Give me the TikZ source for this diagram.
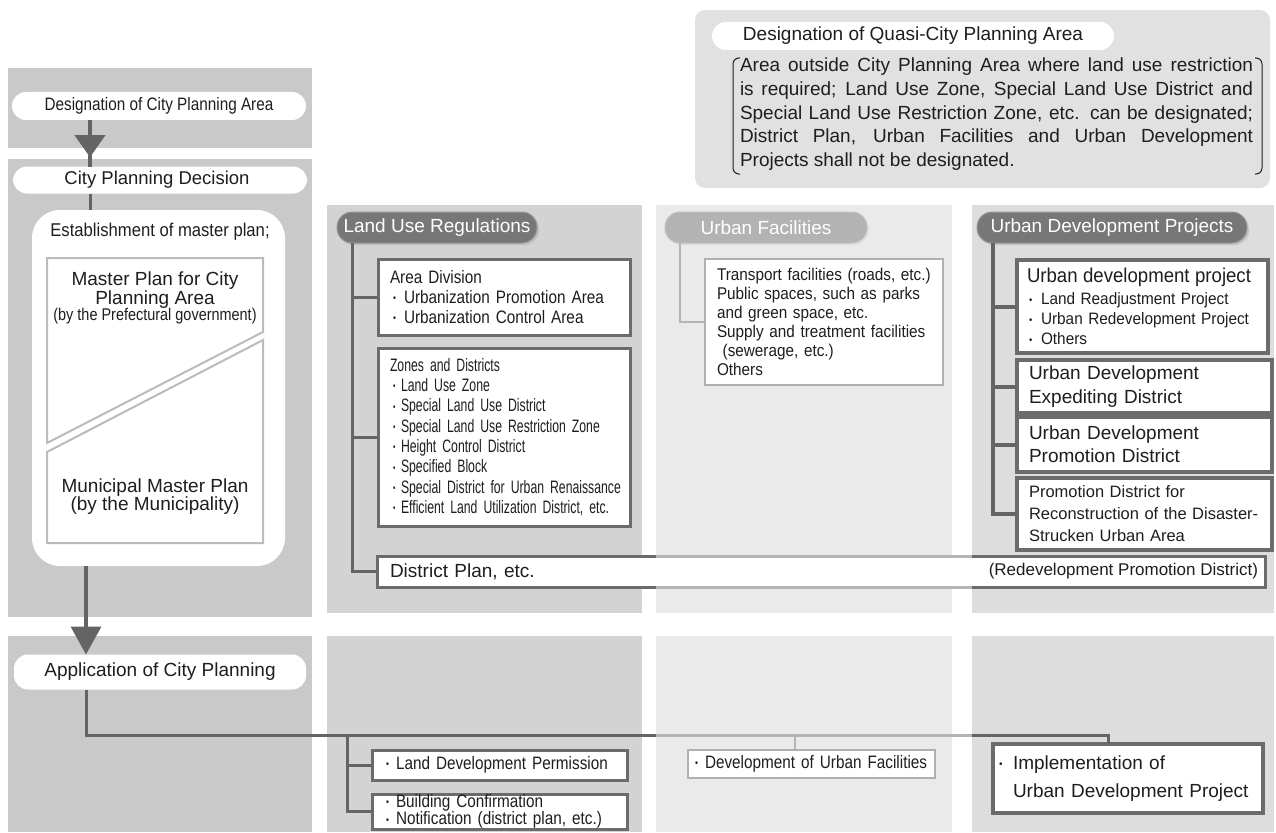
\documentclass[tikz,border=0pt]{standalone}
\usepackage{fontspec}
\setmainfont{Liberation Sans}
\newfontfamily\condA[FakeStretch=0.85]{Liberation Sans}
\newfontfamily\condB[FakeStretch=0.68]{Liberation Sans}
\newfontfamily\condC[FakeStretch=0.90]{Liberation Sans}
\newfontfamily\condD[FakeStretch=0.93]{Liberation Sans}
\usetikzlibrary{arrows.meta,decorations.markings,shadows}

\definecolor{colL}{HTML}{C9C9C9}
\definecolor{colLU}{HTML}{D3D3D3}
\definecolor{colUF}{HTML}{EAEAEA}
\definecolor{colUD}{HTML}{DDDDDD}
\definecolor{colQ}{HTML}{E1E1E1}
\definecolor{pilldark}{HTML}{777777}
\definecolor{pilllight}{HTML}{B3B3B3}
\definecolor{boxdark}{HTML}{6B6B6B}
\definecolor{boxlight}{HTML}{B0B0B0}
\definecolor{linedark}{HTML}{646464}
\definecolor{linelight}{HTML}{B4B4B4}
\definecolor{mpline}{HTML}{BBBBBB}
\definecolor{ink}{HTML}{1E1E1E}

\newcommand\sizeto[2]{\fontsize{#1}{#2}\selectfont}
\newcommand\bul[1][11pt]{\makebox[#1][l]{\raisebox{0.1em}{\fontsize{10}{10}\selectfont •}}}

\begin{document}
\begin{tikzpicture}[x=1pt,y=-1pt,
  every node/.style={inner sep=0pt,outer sep=0pt,text=ink},
  whitepill/.style={fill=white,rounded corners=14pt},
  darkpill/.style={fill=pilldark,draw=pilldark!75,line width=1pt,rounded corners=15pt,text=white,
    drop shadow={shadow xshift=2pt,shadow yshift=-2pt,fill=black!30,opacity=0.6},font=\sizeto{19}{22}},
  lightpill/.style={fill=pilllight,draw=pilllight!80,line width=1pt,rounded corners=15pt,text=white,
    drop shadow={shadow xshift=2pt,shadow yshift=-2pt,fill=black!15,opacity=0.6},font=\sizeto{19}{22}},
  darkbox/.style={draw=boxdark,line width=3pt,fill=white,anchor=north west},
  lightbox/.style={draw=boxlight,line width=2.5pt,fill=white,anchor=north west},
  conn/.style={draw=linedark,line width=3pt},
  lightconn/.style={draw=linelight,line width=2.5pt},
  mpedge/.style={draw=mpline,line width=2pt,line join=miter},
  flowarrow/.style={draw=linedark,line width=4pt}
]
\useasboundingbox (0,0) rectangle (1276,832);

% ---------- background panels ----------
\fill[colL] (8,68) rectangle (312,148);
\fill[colL] (8,159) rectangle (312,617);
\fill[colL] (8,636) rectangle (312,832);
\fill[colLU] (327,205) rectangle (642,613);
\fill[colLU] (327,636) rectangle (642,832);
\fill[colUF] (656,205) rectangle (952,613);
\fill[colUF] (656,636) rectangle (952,832);
\fill[colUD] (972,205) rectangle (1274,613);
\fill[colUD] (972,636) rectangle (1274,832);
\fill[colQ, rounded corners=10pt] (695,10) rectangle (1270,188);

% ---------- quasi-city planning area ----------
\node[whitepill,minimum width=402pt,minimum height=28pt,anchor=north west,font=\sizeto{19}{22}] (qp) at (712,22)
  {Designation of Quasi-City Planning Area};
\node[anchor=north west,align=left,font=\sizeto{19}{23.7}] (qt) at (740,58)
  {\makebox[513pt][s]{Area outside City Planning Area where land use restriction}\\
   \makebox[513pt][s]{is required; Land Use Zone, Special Land Use District and}\\
   \makebox[513pt][s]{Special Land Use Restriction Zone, etc. can be designated;}\\
   \makebox[513pt][s]{District Plan, Urban Facilities and Urban Development}\\
   Projects shall not be designated.};
\draw[ink,line width=1pt,rounded corners=6pt] (740,58) -- (733,58) -- (733,174) -- (740,174);
\draw[ink,line width=1pt,rounded corners=6pt] (1255,58) -- (1262,58) -- (1262,174) -- (1255,174);

% ---------- left column: planning flow ----------
\coordinate (ax) at (90,0);
\coordinate (bx) at (86,0);
\node[whitepill,minimum width=294pt,minimum height=28pt] (cpa) at (159,106)
  {\condA\sizeto{18}{20}Designation of City Planning Area};
\node[whitepill,minimum width=294pt,minimum height=27pt] (cpd) at (160,180)
  {\sizeto{18.5}{20}City Planning Decision\hspace*{6pt}};
\node[fill=white,rounded corners=28pt,minimum width=253pt,minimum height=356pt,anchor=north west] (mp) at (32,210) {};
\node[font=\condC\sizeto{18.5}{22}] (est) at (160,232) {Establishment of master plan;};

% split master-plan square
\draw[mpedge] (47,258) -- (263,258) -- (263,332) -- (47,443) -- cycle;
\draw[mpedge] (47,452) -- (263,340) -- (263,543) -- (47,543) -- cycle;
\node[align=center,font=\sizeto{19}{16.5}] (mpp) at (155,298)
  {Master Plan for City\\Planning Area\\{\condA\sizeto{17}{16.5}(by the Prefectural government)}};
\node[align=center,font=\sizeto{19}{18}] (mpm) at (155,497)
  {Municipal Master Plan\\(by the Municipality)};

\node[whitepill,minimum width=292pt,minimum height=35pt] (app) at (160,672)
  {\sizeto{19}{22}Application of City Planning};

\draw[flowarrow,postaction={decorate,decoration={markings,
  mark=at position 0.8 with {\arrow{Triangle[width=30pt,length=22pt]}}}}]
  (ax |- cpa.south) -- (ax |- cpd.north);
\draw[conn] (ax |- cpd.south) -- (ax |- mp.north);
\draw[flowarrow,line width=3.5pt,-{Triangle[width=30pt,length=28pt]}] (bx |- mp.south) -- (bx |- app.north);

% ---------- land use regulations ----------
\node[darkpill,minimum width=200pt,minimum height=31pt] (lur) at (437,227.5) {Land Use Regulations};
\node[darkbox,minimum width=252pt,minimum height=76pt,text width=228pt,inner xsep=12pt,align=left,
  font=\condA\sizeto{18}{20}] (ad) at (378,259)
  {Area Division\\
   \hspace*{3pt}\bul Urbanization Promotion Area\\
   \hspace*{3pt}\bul Urbanization Control Area};
\node[darkbox,minimum width=252pt,minimum height=178pt,text width=238pt,inner xsep=7pt,align=left,
  font=\condB\sizeto{18}{20.3}] (zd) at (378,348)
  {\hspace*{5pt}Zones and Districts\\
   \hspace*{8pt}\bul[8pt]Land Use Zone\\
   \hspace*{8pt}\bul[8pt]Special Land Use District\\
   \hspace*{8pt}\bul[8pt]Special Land Use Restriction Zone\\
   \hspace*{8pt}\bul[8pt]Height Control District\\
   \hspace*{8pt}\bul[8pt]Specified Block\\
   \hspace*{8pt}\bul[8pt]Special District for Urban Renaissance\\
   \hspace*{8pt}\bul[8pt]Efficient Land Utilization District, etc.};
\node[darkbox,minimum width=888pt,minimum height=31pt,text width=862pt,inner xsep=13pt,align=left,
  font=\sizeto{19}{22}] (dp) at (377,556) {District Plan, etc.};
\node[anchor=east,font=\sizeto{17}{20}] (dpr) at ([xshift=-7pt]dp.east) {(Redevelopment Promotion District)};
% the district plan bar is faded where it crosses the urban facilities column
\draw[linelight,line width=3pt] (656,556) -- (972,556) (656,587) -- (972,587);

\coordinate (lx) at (352,0);
\draw[conn] (lx |- lur.south) |- (dp.west);
\draw[conn] (lx |- ad.west) -- (ad.west);
\draw[conn] (lx |- zd.west) -- (zd.west);

% ---------- urban facilities ----------
\node[lightpill,minimum width=202pt,minimum height=31pt] (ufp) at (766,227.5) {Urban Facilities};
\node[lightbox,minimum width=238pt,minimum height=126pt,text width=214pt,inner xsep=12pt,align=left,
  font=\condC\sizeto{17}{19}] (ufb) at (705,259)
  {Transport facilities (roads, etc.)\\
   Public spaces, such as parks\\
   and green space, etc.\\
   Supply and treatment facilities\\
   \ (sewerage, etc.)\\
   Others};
\coordinate (ufx) at (680,0);
\draw[lightconn] (ufx |- ufp.south) |- (ufb.west);

% ---------- urban development projects ----------
\node[darkpill,minimum width=270pt,minimum height=31pt] (udp) at (1112,227.5) {Urban Development Projects};
\node[darkbox,line width=3.5pt,minimum width=251pt,minimum height=93pt,text width=235pt,inner xsep=8pt,align=left,
  font=\condD\sizeto{16.5}{20}] (ud1) at (1017,260)
  {\hspace*{2pt}{\sizeto{20}{20}Urban development project}\\[2pt]
   \hspace*{4pt}\bul[12pt]Land Readjustment Project\\
   \hspace*{4pt}\bul[12pt]Urban Redevelopment Project\\
   \hspace*{4pt}\bul[12pt]Others};
\node[darkbox,line width=3.5pt,minimum width=251pt,minimum height=53pt,text width=231pt,inner xsep=12pt,align=left,
  font=\sizeto{19}{24}] (ud2) at (1017,360)
  {Urban Development\\Expediting District};
\node[darkbox,line width=3.5pt,minimum width=251pt,minimum height=55pt,text width=231pt,inner xsep=12pt,align=left,
  font=\sizeto{19}{23}] (ud3) at (1017,417)
  {Urban Development\\Promotion District};
\node[darkbox,line width=3.5pt,minimum width=251pt,minimum height=72pt,text width=231pt,inner xsep=12pt,align=left,
  font=\sizeto{16.5}{22}] (ud4) at (1017,478)
  {Promotion District for\\Reconstruction of the Disaster-\\Strucken Urban Area};
\coordinate (udx) at (993,0);
\draw[conn,line width=4pt] (udx |- udp.south) |- (ud4.west);
\draw[conn,line width=4pt] (udx |- ud1.west) -- (ud1.west);
\draw[conn,line width=4pt] (udx |- ud2.west) -- (ud2.west);
\draw[conn,line width=4pt] (udx |- ud3.west) -- (ud3.west);

% ---------- application of city planning ----------
\node[darkbox,minimum width=255pt,minimum height=30pt,text width=227pt,inner xsep=14pt,align=left,
  font=\condA\sizeto{18}{20}] (ldp) at (372,750)
  {\bul[10pt]Land Development Permission};
\node[darkbox,minimum width=255pt,minimum height=35pt,text width=227pt,inner xsep=14pt,align=left,
  font=\condA\sizeto{18}{17.5}] (bc) at (372,794)
  {\bul[10pt]Building Confirmation\\
   \bul[10pt]Notification (district plan, etc.)};
\node[lightbox,minimum width=247pt,minimum height=28pt,text width=233pt,inner xsep=7pt,align=left,
  font=\condA\sizeto{18}{20}] (duf) at (688,750)
  {\bul[10pt]Development of Urban Facilities};
\node[darkbox,line width=3.5pt,minimum width=270pt,minimum height=69pt,text width=258pt,inner xsep=6pt,align=left,
  font=\sizeto{19}{28}] (impl) at (993,744)
  {\bul[14pt]Implementation of\\
   \hspace*{14pt}Urban Development Project};

\coordinate (hy) at (0,735);
\coordinate (ix) at (1108,0);
\coordinate (lx2) at (347,0);
\coordinate (dx) at (795,0);
\draw[conn] (bx |- app.south) |- (ix |- hy) -- (ix |- impl.north);
% the application line is faded across the urban facilities column
\draw[linelight,line width=3pt] (656,735) -- (972,735);
\draw[conn] (lx2 |- hy) |- (bc.west);
\draw[conn] (lx2 |- ldp.west) -- (ldp.west);
\draw[lightconn,line width=2pt] (dx |- hy) -- (dx |- duf.north);
\end{tikzpicture}
\end{document}
